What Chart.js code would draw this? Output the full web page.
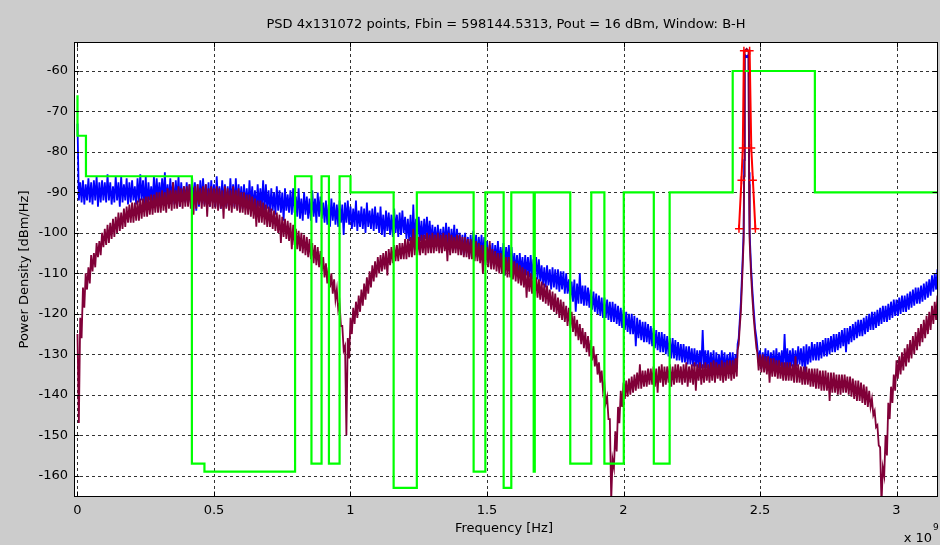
<!DOCTYPE html>
<html><head><meta charset="utf-8">
<script src="https://cdn.jsdelivr.net/npm/chart.js@4.4.1/dist/chart.umd.min.js"></script>
<style>html,body{margin:0;padding:0;background:#cccccc;overflow:hidden;}canvas{display:block;}</style>
</head><body>
<canvas id="c" width="940" height="545"></canvas>
<script>
const titleText = 'PSD 4x131072 points, Fbin = 598144.5313, Pout = 16 dBm, Window: B-H';
const xLabel = 'Frequency [Hz]';
const yLabel = 'Power Density [dBm/Hz]';
const xTickValuesGHz = [0, 0.5, 1, 1.5, 2, 2.5, 3];
const yTickValues = [-160, -150, -140, -130, -120, -110, -100, -90, -80, -70, -60];

// frequency grid (GHz): upper value at f, lower value at f + half step
const gridStartGHz = 0;
const gridStepGHz = 0.01;

// blue trace: upper / lower edge of the noise band
const blueHiDb = [
-73,-87.5,-87,-88,-86.5,-87.5,-87,-86,-87.5,-87,
-87.5,-85.5,-87.5,-88.5,-86,-87.5,-86,-88,-86.5,-87.5,
-87,-88.5,-86.5,-85.5,-87,-86,-87.5,-88.5,-86,-86.5,
-87.5,-86.5,-85,-88,-86.5,-87.5,-87,-86,-87.5,-88.5,
-87.5,-88,-86.5,-87.5,-88,-87,-86.5,-88,-87.5,-87,
-88,-86,-88.5,-87,-88,-88.5,-86.5,-88,-86.5,-88,
-88.5,-88,-89,-87,-88.5,-89.5,-88,-89,-87,-88,
-89.5,-89,-90,-88.5,-89.5,-90,-89,-90.5,-89.5,-89,
-91,-89,-91.5,-90,-91,-91.5,-89.5,-91.5,-90,-91,
-92.5,-92,-93,-91.5,-92.5,-93,-92,-93,-92.5,-92,
-93.5,-94,-92,-94.5,-93.5,-94,-92.5,-94.5,-94,-93.5,
-95,-93.5,-95.5,-94.5,-95,-95.5,-94,-95.5,-95,-94.5,
-96,-96.5,-95.5,-93,-96.5,-96,-97,-96.5,-96,-97,
-98,-98.5,-98,-99,-98.5,-97.5,-98.5,-99,-98,-99,
-100,-100.5,-100,-101,-100.5,-99.5,-100.5,-101,-100.5,-101,
-102,-103,-102.5,-103,-102,-103.5,-102.5,-103.5,-103,-103.5,
-105,-105.5,-105,-106,-105.5,-106,-105.5,-106.5,-106,-106.5,
-108,-108.5,-108,-109,-108.5,-109,-109,-109.5,-109.5,-110,
-111.5,-112,-111.5,-112.5,-110,-113,-113,-113.5,-114,-114.5,
-115,-115.5,-116,-116,-116.5,-117,-117,-117.5,-118,-118.5,
-119,-119.5,-120,-120,-120.5,-121,-121.5,-122,-122,-122.5,
-123,-123.5,-124,-124.5,-124.5,-125,-125.5,-126,-126,-126.5,
-127,-127.5,-127.5,-128,-128,-128.5,-128.5,-129,-129,-124,
-129,-129,-129.5,-129,-129.5,-130,-129,-129.5,-130,-129.5,
-129.5,-130,null,null,null,null,null,null,null,-128,
-129,-129.5,-128.5,-129,-129.5,-129,-128.5,-129.5,-129,-125,
-128.5,-129,-128.5,-129,-128,-128.5,-128,-127.5,-128,-127,
-127.5,-127,-127,-126.5,-126,-126,-125.5,-125,-125,-124.5,
-124,-123.5,-123.5,-123,-122.5,-122,-121.5,-121.5,-121,-120.5,
-120,-119.5,-119.5,-119,-118.5,-118,-118,-117.5,-117,-116.5,
-116.5,-116,-115.5,-115.5,-115,-114.5,-114,-113.5,-113.5,-113,
-112.5,-112,-111.5,-110.5,-110,-109
];
const blueLoDb = [
-92,-92.5,-93,-92,-92.5,-93,-92,-93.5,-92.5,-92,
-92.5,-92,-93,-92.5,-92,-93.5,-92.5,-92,-93,-92.5,
-92,-93,-92.5,-92,-93.5,-94,-92,-93,-92.5,-92,
-92.5,-92,-93,-92.5,-92,-93,-92.5,-93.5,-92,-92.5,
-93,-92.5,-93,-94.5,-93.5,-92.5,-93,-92.5,-93.5,-92.5,
-93.5,-93,-94,-93,-93.5,-94,-93,-93.5,-94,-93,
-94,-93.5,-94.5,-93.5,-94,-95,-93.5,-94,-94.5,-94,
-95,-94.5,-95.5,-94.5,-95,-97,-94.5,-95,-95.5,-95,
-96,-96.5,-97,-95.5,-96.5,-97,-96,-97.5,-96,-96.5,
-97.5,-98,-98.5,-97,-98,-98.5,-97.5,-100.5,-97.5,-98,
-99,-98.5,-99.5,-98.5,-99,-100,-98.5,-99,-99.5,-99,
-100,-100.5,-101,-99.5,-100.5,-101,-100,-101,-100.5,-100,
-101.5,-102,-103.5,-102.5,-101.5,-102,-102.5,-101.5,-102,-102.5,
-103,-103.5,-103,-104,-103.5,-103,-104,-103.5,-104,-103.5,
-105,-105.5,-105,-106,-105.5,-105,-106,-105.5,-106,-106,
-107.5,-107,-108,-107.5,-108,-107.5,-110.5,-108,-108.5,-109,
-110,-110.5,-110,-111,-110.5,-111,-111.5,-111,-111.5,-112,
-113,-113.5,-113,-114,-113.5,-114,-114.5,-114,-115,-115,
-116.5,-117,-119.5,-117.5,-117.5,-118,-118,-118.5,-119,-119.5,
-120,-120.5,-121,-121,-121.5,-122,-122,-122.5,-123,-123.5,
-124,-124.5,-125,-125,-128,-126,-126.5,-127,-127,-127.5,
-128,-128.5,-129,-129.5,-129.5,-130,-130.5,-131,-131,-131.5,
-131.5,-132,-132,-132.5,-132.5,-133,-133,-133.5,-133.5,-133.5,
-133.5,-134,-134,-135.5,-134.5,-134,-134,-134.5,-134,-134,
-134,-133.5,null,null,null,null,null,null,null,-132,
-133.5,-133,-134,-133.5,-133,-134,-133.5,-133,-134,-133.5,
-133.5,-133,-133.5,-133,-132.5,-133,-134.5,-132.5,-132,-131.5,
-131.5,-131.5,-131,-130.5,-130.5,-130,-129.5,-129.5,-129,-128.5,
-128,-129.5,-127.5,-127,-126.5,-126,-125.5,-125.5,-125,-124.5,
-124,-124,-123.5,-123,-122.5,-122,-122,-121.5,-121,-120.5,
-120.5,-120,-119.5,-119.5,-119,-118.5,-118,-117.5,-117.5,-117,
-116.5,-116,-115.5,-114.5,-114,-113.5
];

// maroon trace: upper / lower edge of the noise band
const maroonHiDb = [
-125,-121,-113.5,-110,-108.5,-105.5,-105,-102.5,-102,-100,
-99,-98,-97.5,-96.5,-96,-95,-95,-94,-93.5,-93,
-92.5,-92.5,-92,-91.5,-91.5,-91,-91,-90.5,-90.5,-90,
-90,-89.5,-90,-89,-89.5,-87.5,-89.5,-88.5,-89,-88.5,
-88.5,-88,-89,-88.5,-88,-89,-88.5,-88,-89,-88.5,
-89,-88.5,-89,-89.5,-88.5,-89,-89.5,-88.5,-89.5,-89,
-90,-90,-90.5,-90.5,-91,-91.5,-92,-92,-92.5,-93,
-93.5,-94,-94.5,-95,-95.5,-96,-96.5,-97,-97.5,-98,
-99,-99.5,-100,-100.5,-101,-101.5,-102.5,-103,-103.5,-104.5,
-106,-107.5,-108.5,-110,-111.5,-114,-117.5,-123,-128,-126,
-121,-118.5,-117,-115.5,-114,-112.5,-111,-109.5,-108,-107,
-106,-105.5,-105,-104.5,-104,-103.5,-103,-103,-102.5,-102.5,
-101.5,-101.5,-101,-99,-100.5,-101,-100.5,-100.5,-100,-100.5,
-100,-100.5,-100,-100.5,-100,-100.5,-100,-100.5,-101,-100.5,
-100.5,-101,-101,-101.5,-101.5,-102,-102,-102.5,-103,-103,
-103.5,-102,-104,-104.5,-105,-105,-105.5,-106,-106,-106.5,
-107,-107.5,-108,-108.5,-109,-109.5,-110,-110.5,-111,-111.5,
-112,-112.5,-113,-114,-114.5,-115,-116,-116.5,-117,-118,
-118.5,-119.5,-120.5,-121.5,-122.5,-123.5,-124.5,-125.5,-126.5,-128,
-130,-132,-134,-137,-140.5,-146,-156,-149,-143,-139,
-137,-136.5,-136,-135.5,-135,-134.5,-132.5,-134,-134,-133.5,
-133.5,-133,-133.5,-133,-132.5,-133,-133,-132.5,-133,-132.5,
-132.5,-133,-132.5,-132,-133,-132.5,-132,-132.5,-132,-132.5,
-132,-132.5,-132,-131.5,-132,-132.5,-131.5,-132,-131.5,-131.5,
-131.5,-131,null,null,null,null,null,null,null,-129.5,
-130,-130,-130.5,-130.5,-131,-131,-131.5,-131.5,-132,-132,
-132,-132,-132.5,-130.5,-132.5,-133,-133,-133,-133.5,-133.5,
-133.5,-133.5,-134,-134,-134,-134.5,-134.5,-134.5,-135,-135,
-135,-135,-135.5,-135.5,-136,-136.5,-136.5,-137,-137.5,-138,
-139,-141,-144,-147.5,-153,-158,-150,-142,-138,-135,
-131.5,-130.5,-129.5,-128.5,-127.5,-126.5,-125.5,-124.5,-123.5,-122.5,
-121.5,-120.5,-119.5,-118,-117,-115.5
];
const maroonLoDb = [
-147,-126,-118.5,-114,-112.5,-109.5,-108.5,-106,-105.5,-103.5,
-103,-102.5,-101.5,-101,-100,-99.5,-99,-98.5,-97.5,-97.5,
-97.5,-97,-97,-96.5,-96,-96,-95.5,-95.5,-95,-95,
-95,-94.5,-95,-94,-94.5,-94,-94,-93.5,-94,-93.5,
-93.5,-94,-95.5,-94,-93,-94,-93.5,-96,-93.5,-94,
-94,-94.5,-94,-96.5,-94,-94.5,-95,-94,-94.5,-95,
-95,-95.5,-95.5,-96,-96.5,-98.5,-97.5,-97.5,-98,-98.5,
-98.5,-99,-99.5,-100,-102.5,-101,-101.5,-102,-104,-103,
-104,-104.5,-105,-105.5,-106,-106.5,-107.5,-108,-108.5,-109.5,
-111,-112.5,-113.5,-115,-116.5,-119,-123,-129,-150,-131,
-125,-122.5,-121,-119.5,-118,-116.5,-115,-113.5,-112,-111,
-110,-109.5,-109,-110.5,-108,-107.5,-107,-107,-106.5,-106.5,
-106.5,-106,-106,-105.5,-105.5,-105.5,-105,-105.5,-105,-105,
-105,-104.5,-105,-105,-104.5,-107,-105.5,-105,-105,-105.5,
-105.5,-106,-106,-106.5,-106.5,-107,-107,-107.5,-110,-108,
-108.5,-109,-109,-109.5,-110,-110,-110.5,-111,-111,-111.5,
-112,-112.5,-113,-113.5,-116,-114.5,-115,-115.5,-116,-116.5,
-117,-117.5,-118,-119,-119.5,-120,-121,-121.5,-122,-123,
-123.5,-124.5,-125.5,-126.5,-127.5,-128.5,-129.5,-130.5,-131.5,-133,
-135,-137,-139,-142,-146,-166,-158,-154,-147,-143,
-141,-140.5,-140,-139.5,-139,-138.5,-138.5,-138,-138,-137.5,
-137.5,-138,-139.5,-137,-138,-137.5,-137,-138,-137.5,-137,
-137,-137.5,-137,-138,-137,-137.5,-139,-136.5,-137.5,-137,
-136.5,-137,-136.5,-137,-136,-136.5,-137,-136.5,-136,-136.5,
-136,-135.5,null,null,null,null,null,null,null,-134,
-134.5,-134.5,-135,-137,-135.5,-135.5,-136,-136,-136.5,-136.5,
-136.5,-136.5,-137,-137,-137,-137.5,-137.5,-137.5,-138,-138,
-138.5,-138.5,-139,-139,-139,-141.5,-139.5,-139.5,-140,-140,
-139.5,-139.5,-140,-140.5,-141,-141.5,-141.5,-142,-142.5,-143,
-143,-145,-148,-152.5,-167,-160,-155,-146,-142,-139,
-136,-135,-134,-133,-132,-131,-130,-129,-128,-127,
-126,-125,-124,-122.5,-121.5,-120.5
];

// carrier peak, finer frequency points (GHz)
const peakFreqGHz = [2.418,2.422,2.426,2.43,2.435,2.44,2.442,2.444,2.451,2.458,2.46,2.462,2.467,2.472,2.477,2.482,2.487];
const bluePeakDb  = [-127.5,-126,-121.5,-117,-109,-100,-82,-56,-56.5,-56,-85,-100,-108,-114,-119,-123.5,-126];
const maroonPeakDb= [-129,-127.5,-123,-119.5,-111,-102,-86,-55,-54.5,-55,-88,-102,-110,-116,-121,-125,-128.5];

// red marked trace
const redFreqGHz = [2.423,2.432,2.437,2.441,2.462,2.468,2.474,2.483];
const redDb      = [-99,-87,-79,-55,-55,-79,-87,-99];

// green spectral mask
const maskFreqGHz = [0,0,0.031,0.031,0.419,0.419,0.465,0.465,0.797,0.797,
  0.857,0.857,0.894,0.894,0.921,0.921,0.960,0.960,1.000,1.000,
  1.158,1.158,1.243,1.243,1.451,1.451,1.494,1.494,1.561,1.561,
  1.589,1.589,1.671,1.671,1.675,1.675,1.805,1.805,1.882,1.882,
  1.930,1.930,2.001,2.001,2.111,2.111,2.169,2.169,2.400,2.400,
  2.701,2.701,3.16];
const maskDb = [-66,-76,-76,-86,-86,-157,-157,-159,-159,-86,
  -86,-157,-157,-86,-86,-157,-157,-86,-86,-90,
  -90,-163,-163,-90,-90,-159,-159,-90,-90,-163,
  -163,-90,-90,-159,-159,-90,-90,-157,-157,-90,
  -90,-157,-157,-90,-90,-157,-157,-90,-90,-60,
  -60,-90,-90];

function bandPoints(hi, lo, freqs, peakVals) {
  const pts = [];
  hi.forEach((v, i) => {
    const f = gridStartGHz + i * gridStepGHz;
    if (v !== null) pts.push({ x: f * 1e9, y: v });
    if (lo[i] !== null) pts.push({ x: (f + gridStepGHz / 2) * 1e9, y: lo[i] });
  });
  freqs.forEach((f, i) => pts.push({ x: f * 1e9, y: peakVals[i] }));
  pts.sort((a, b) => a.x - b.x);
  return pts;
}
function pairs(freqs, vals) { return freqs.map((f, i) => ({ x: f * 1e9, y: vals[i] })); }

const FONT = '"DejaVu Sans", "Liberation Sans", sans-serif';

const framePlugin = {
  id: 'frame',
  beforeDraw(chart) {
    const { ctx, chartArea: a } = chart;
    ctx.save();
    ctx.fillStyle = '#cccccc';
    ctx.fillRect(0, 0, chart.width, chart.height);
    ctx.fillStyle = '#ffffff';
    ctx.fillRect(a.left, a.top, a.right - a.left, a.bottom - a.top);
    ctx.restore();
  },
  beforeDatasetsDraw(chart) {
    const { ctx, chartArea: a, scales } = chart;
    ctx.save();
    ctx.strokeStyle = '#333333';
    ctx.lineWidth = 1;
    ctx.setLineDash([3, 3]);
    xTickValuesGHz.forEach(v => {
      const x = Math.round(scales.x.getPixelForValue(v * 1e9)) + 0.5;
      ctx.beginPath(); ctx.moveTo(x, a.top); ctx.lineTo(x, a.bottom); ctx.stroke();
    });
    yTickValues.forEach(v => {
      const y = Math.round(scales.y.getPixelForValue(v)) + 0.5;
      ctx.beginPath(); ctx.moveTo(a.left, y); ctx.lineTo(a.right, y); ctx.stroke();
    });
    ctx.restore();
  },
  afterDatasetsDraw(chart) {
    const { ctx, chartArea: a, scales } = chart;
    ctx.save();
    ctx.strokeStyle = '#000000';
    ctx.lineWidth = 1;
    ctx.setLineDash([]);
    const L = Math.round(a.left) + 0.5, R = Math.round(a.right) - 0.5;
    const T = Math.round(a.top) + 0.5, B = Math.round(a.bottom) - 0.5;
    ctx.strokeRect(L, T, R - L, B - T);
    const tl = 5;
    xTickValuesGHz.forEach(v => {
      const x = Math.round(scales.x.getPixelForValue(v * 1e9)) + 0.5;
      ctx.beginPath();
      ctx.moveTo(x, B); ctx.lineTo(x, B - tl);
      ctx.moveTo(x, T); ctx.lineTo(x, T + tl);
      ctx.stroke();
    });
    yTickValues.forEach(v => {
      const y = Math.round(scales.y.getPixelForValue(v)) + 0.5;
      ctx.beginPath();
      ctx.moveTo(L, y); ctx.lineTo(L + tl, y);
      ctx.moveTo(R, y); ctx.lineTo(R - tl, y);
      ctx.stroke();
    });
    ctx.restore();
  },
  afterDraw(chart) {
    const { ctx, chartArea: a } = chart;
    ctx.save();
    ctx.fillStyle = '#000000';
    ctx.font = '13px ' + FONT;
    ctx.textAlign = 'center';
    ctx.textBaseline = 'middle';
    ctx.fillText(titleText, (a.left + a.right) / 2, 25);
    ctx.fillText(xLabel, (a.left + a.right) / 2 - 2, 529);
    ctx.save();
    ctx.translate(25, (a.top + a.bottom) / 2);
    ctx.rotate(-Math.PI / 2);
    ctx.fillText(yLabel, 0, 0);
    ctx.restore();
    ctx.textAlign = 'right';
    ctx.fillText('x 10', 932, 539);
    ctx.font = '9px ' + FONT;
    ctx.textAlign = 'left';
    ctx.fillText('9', 933, 528);
    ctx.restore();
  }
};

const chart = new Chart(document.getElementById('c'), {
  type: 'line',
  data: {
    datasets: [
      { label: 'marked', data: pairs(redFreqGHz, redDb), borderColor: '#ff0000', backgroundColor: '#ff0000',
        borderWidth: 2, pointStyle: 'cross', pointRadius: 4, pointBorderWidth: 1.5, pointBorderColor: '#ff0000', order: 0 },
      { label: 'mask', data: pairs(maskFreqGHz, maskDb), borderColor: '#00ff00', borderWidth: 2.2, pointRadius: 0, order: 1 },
      { label: 'psd2', data: bandPoints(maroonHiDb, maroonLoDb, peakFreqGHz, maroonPeakDb), borderColor: '#800038', borderWidth: 1.8, pointRadius: 0, order: 2 },
      { label: 'psd1', data: bandPoints(blueHiDb, blueLoDb, peakFreqGHz, bluePeakDb), borderColor: '#0000ff', borderWidth: 1.8, pointRadius: 0, order: 3 }
    ]
  },
  options: {
    responsive: false,
    animation: false,
    devicePixelRatio: 1,
    events: [],
    elements: { line: { tension: 0, fill: false } },
    layout: { autoPadding: false, padding: { top: 42, right: 2, bottom: 0, left: 0 } },
    plugins: { legend: { display: false }, tooltip: { enabled: false }, title: { display: false } },
    scales: {
      x: {
        type: 'linear', min: -0.0128e9, max: 3.152e9,
        grid: { display: false, drawTicks: false }, border: { display: false },
        afterBuildTicks: s => { s.ticks = xTickValuesGHz.map(v => ({ value: v * 1e9 })); },
        ticks: { callback: v => String(Math.round(v / 1e7) / 100), font: { family: FONT, size: 13 }, color: '#000',
                 padding: 6, maxRotation: 0, autoSkip: false },
        afterFit: s => { s.height = 48; }
      },
      y: {
        type: 'linear', min: -165.26, max: -52.83,
        grid: { display: false, drawTicks: false }, border: { display: false },
        afterBuildTicks: s => { s.ticks = yTickValues.map(v => ({ value: v })); },
        ticks: { callback: v => String(v), font: { family: FONT, size: 13 }, color: '#000', padding: 6, autoSkip: false },
        afterFit: s => { s.width = 74; }
      }
    }
  },
  plugins: [framePlugin]
});
</script>
</body></html>
